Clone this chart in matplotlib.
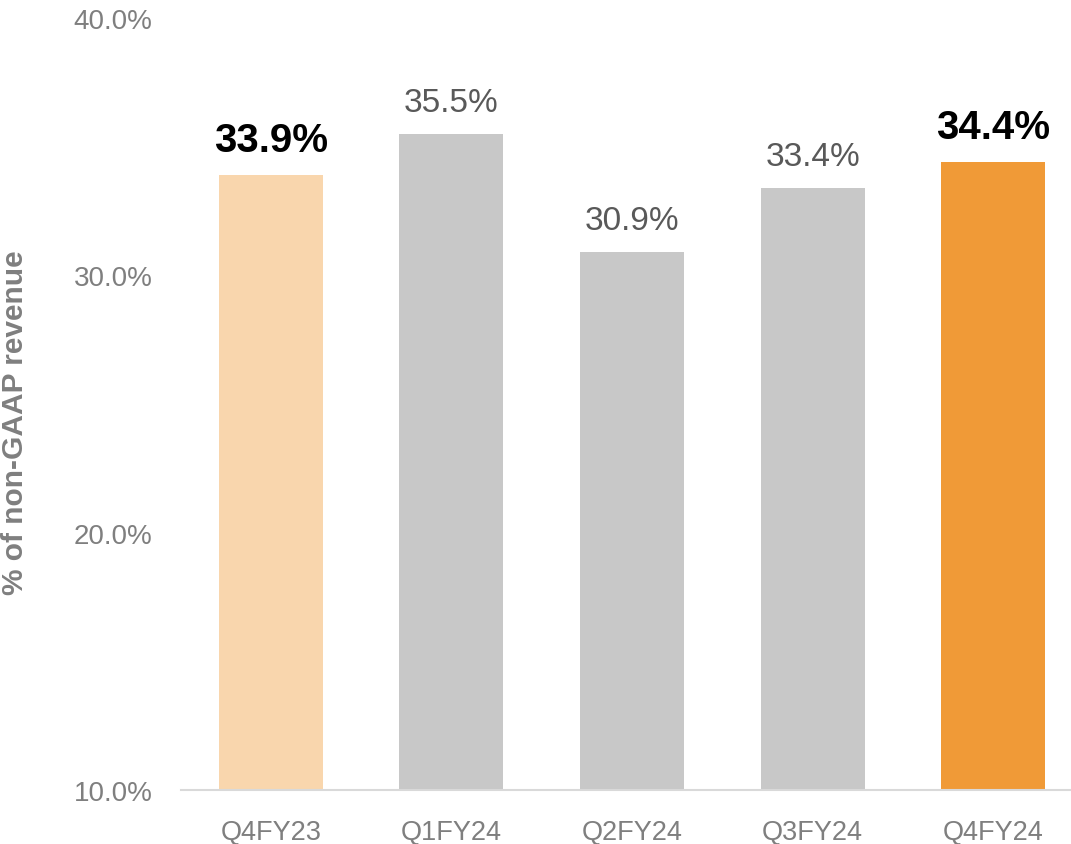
import matplotlib
matplotlib.use("Agg")
import matplotlib.pyplot as plt

categories = ["Q4FY23", "Q1FY24", "Q2FY24", "Q3FY24", "Q4FY24"]
values = [33.9, 35.5, 30.9, 33.4, 34.4]
bar_colors = ["#F9D6AD", "#C8C8C8", "#C8C8C8", "#C8C8C8", "#F09A37"]
highlight = [True, False, False, False, True]
yticks = [10, 20, 30, 40]

plt.rcParams['font.family'] = ['Liberation Sans', 'DejaVu Sans']

fig = plt.figure(figsize=(10.71, 8.45), dpi=100)
ax = fig.add_axes([180.5/1071, 54/845, 903/1071, 772/845])

x = list(range(len(categories)))
ax.bar(x, [v - 10 for v in values], bottom=10, width=0.575, color=bar_colors)
ax.set_xlim(-0.5, len(categories) - 0.5)
ax.set_ylim(10, 40)
ax.set_yticks(yticks)
ax.set_yticklabels([f"{t:.1f}%" for t in yticks], fontsize=20, color="#7F7F7F")
ax.set_xticks(x)
ax.set_xticklabels(categories, fontsize=19.5, color="#7F7F7F")
ax.tick_params(axis="both", length=0)
ax.tick_params(axis="y", pad=20)
ax.tick_params(axis="x", pad=21)
for s in ["top", "right", "left"]:
    ax.spines[s].set_visible(False)
ax.spines["bottom"].set_color("#D9D9D9")
ax.spines["bottom"].set_linewidth(1.5)

for xi, v, h in zip(x, values, highlight):
    if h:
        ax.annotate(f"{v:.1f}%", (xi, v), xytext=(0, 17), textcoords="offset points",
                    ha="center", va="baseline", fontsize=29, fontweight="bold", color="black")
    else:
        ax.annotate(f"{v:.1f}%", (xi, v), xytext=(0, 16.5), textcoords="offset points",
                    ha="center", va="baseline", fontsize=24, color="#595959")

fig.text(15/1071, 0.5, "% of non-GAAP revenue", rotation=90, ha="center", va="center",
         fontsize=21.5, fontweight="bold", color="#7F7F7F")

fig.savefig("out.png", dpi=100)
